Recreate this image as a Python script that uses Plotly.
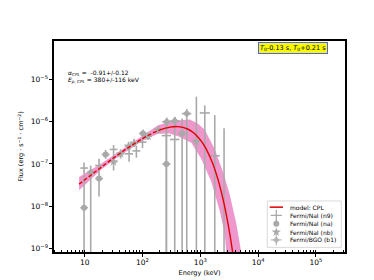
import plotly.graph_objects as go

# ---------------- data ----------------
# model: CPL (nuFnu flux)
model_E = [8, 10, 15, 20, 30, 50, 70, 100, 150, 200, 250, 300, 400, 500, 600, 700, 850,
           1000, 1150, 1300, 1600, 1800, 2000, 2250, 2500, 2750, 3000, 3250, 3500, 3800]
model_F = [3.33e-8, 4.22e-8, 6.47e-8, 8.74e-8, 1.32e-7, 2.18e-7, 2.96e-7, 4.01e-7, 5.41e-7,
           6.41e-7, 7.08e-7, 7.48e-7, 7.69e-7, 7.36e-7, 6.74e-7, 5.98e-7, 4.81e-7, 3.73e-7,
           2.83e-7, 2.10e-7, 1.11e-7, 7.14e-8, 4.51e-8, 2.50e-8, 1.37e-8, 7.43e-9, 3.99e-9,
           2.13e-9, 1.12e-9, 5.2e-10]
dash_until_E = 200

# uncertainty band edges
band_up_E = [8, 19.4, 35, 56, 100, 140, 186, 338, 500, 658, 914, 1195, 1778, 2477, 3236, 4207, 5140]
band_up_F = [4.9e-8, 1.02e-7, 1.77e-7, 2.7e-7, 4.6e-7, 6.4e-7, 8.3e-7, 1.06e-6, 1.12e-6, 1.13e-6,
             9.0e-7, 6.47e-7, 2.23e-7, 6.43e-8, 1.86e-8, 3.78e-9, 7.7e-10]
band_lo_E = [8, 19.4, 35, 56, 100, 186, 290, 412, 700, 1042, 1552, 2171, 2650, 2825]
band_lo_F = [2.4e-8, 7.4e-8, 1.37e-7, 2.14e-7, 3.57e-7, 5.22e-7, 5.3e-7, 4.53e-7, 3.17e-7,
             1.31e-7, 3.78e-8, 7.67e-9, 2.22e-9, 7.7e-10]

# Fermi/NaI (n9)
n9_E = [9.75, 17.7, 31.6, 58.6, 78.4, 100, 259, 361, 1195, 1778]
n9_Elo = [8.4, 15.2, 27.0, 50.0, 67.0, 85.5, 215, 300, 980, 1460]
n9_Ehi = [11.4, 20.7, 37.0, 68.6, 91.7, 117, 312, 435, 1460, 2170]
n9_F = [8.0e-8, 9.2e-8, 2.21e-7, 1.74e-7, 2.04e-7, 3.29e-7, 4.7e-7, 3.8e-7, 1.62e-6, 1.56e-7]
n9_Fhi = [1.09e-7, 1.33e-7, 2.8e-7, 2.27e-7, 2.66e-7, 4.07e-7, 9.2e-7, 1.31e-6, 2.44e-6, 1.44e-6]
n9_Flo = [5.7e-8, 5.7e-8, 1.33e-7, 1.13e-7, 1.41e-7, 2.39e-7, 1e-11, 1e-11, 1e-11, 1e-11]

# Fermi/NaI (na)
na_E = [9.75, 17.7, 23.0, 102, 259, 484]
na_Elo = [8.4, 15.2, 19.7, 87, 220, 410]
na_Ehi = [11.4, 20.7, 26.9, 120, 305, 570]
na_F = [9.2e-9, 4.5e-8, 1.67e-7, 5.3e-7, 1.0e-7, 5.3e-7]
na_Fhi = [5.4e-8, 6.0e-8, 2.15e-7, 6.6e-7, 1.12e-6, 1.2e-6]
na_Flo = [1e-11, 1.7e-8, 1.33e-7, 4.3e-7, 1e-11, 1e-11]

# Fermi/NaI (nb)
nb_E = [31.6, 41.8, 57.4, 71.5, 125, 188, 855]
nb_Elo = [27.0, 35.7, 49.0, 61.0, 107, 160, 730]
nb_Ehi = [37.0, 49.0, 67.2, 83.7, 146, 220, 1000]
nb_F = [1.13e-7, 1.74e-7, 2.66e-7, 3.12e-7, 4.53e-7, 6.5e-7, 3.47e-7]
nb_Fhi = [1.48e-7, 2.2e-7, 3.3e-7, 3.9e-7, 5.5e-7, 7.8e-7, 3.94e-6]
nb_Flo = [7.0e-8, 1.35e-7, 2.1e-7, 2.5e-7, 3.7e-7, 5.3e-7, 1e-11]

# Fermi/BGO (b1)
b1_E = [12.7, 263, 361, 583, 2576]
b1_Elo = [10.9, 220, 300, 480, 2150]
b1_Ehi = [14.8, 312, 435, 700, 3090]
b1_F = [6.3e-8, 1.0e-6, 1.05e-6, 1.56e-6, 5e-10]
b1_Fhi = [9.2e-8, 1.25e-6, 1.3e-6, 2.0e-6, 7.0e-7]
b1_Flo = [1e-11, 8.0e-7, 8.0e-7, 1e-11, 1e-11]

legend_labels = ["model: CPL", "Fermi/NaI (n9)", "Fermi/NaI (na)", "Fermi/NaI (nb)", "Fermi/BGO (b1)"]
param_text = ["<i>α</i><sub><i>CPL</i></sub> =  -0.91+/-0.12",
              "<i>E</i><sub><i>p, CPL</i></sub> = 380+/-116 keV"]
time_text = "<i>T</i><sub>0</sub>-0.13 s, <i>T</i><sub>0</sub>+0.21 s"

# ---------------- style ----------------
GRAY = "#a9a9a9"
PINK = "rgba(236,140,200,0.9)"
RED = "#e00000"
FONT = "DejaVu Sans"

fig = go.Figure()

# band polygon
fig.add_trace(go.Scatter(
    x=band_up_E + band_lo_E[::-1], y=band_up_F + band_lo_F[::-1],
    mode="lines", fill="toself", fillcolor=PINK, line=dict(width=0),
    hoverinfo="skip", showlegend=False))


def data_trace(E, Elo, Ehi, F, Flo, Fhi, symbol, size):
    return go.Scatter(
        x=E, y=F, mode="markers",
        marker=dict(symbol=symbol, size=size, color=GRAY, line=dict(width=0)),
        error_y=dict(type="data", symmetric=False,
                     array=[h - f for h, f in zip(Fhi, F)],
                     arrayminus=[f - l for f, l in zip(F, Flo)],
                     color=GRAY, thickness=1.6, width=0),
        error_x=dict(type="data", symmetric=False,
                     array=[h - e for h, e in zip(Ehi, E)],
                     arrayminus=[e - l for e, l in zip(E, Elo)],
                     color=GRAY, thickness=1.6, width=0),
        showlegend=False)


fig.add_trace(data_trace(n9_E, n9_Elo, n9_Ehi, n9_F, n9_Flo, n9_Fhi, "circle", 0.1))
fig.add_trace(data_trace(na_E, na_Elo, na_Ehi, na_F, na_Flo, na_Fhi, "circle", 6))
fig.add_trace(data_trace(nb_E, nb_Elo, nb_Ehi, nb_F, nb_Flo, nb_Fhi, "star", 7))
fig.add_trace(data_trace(b1_E, b1_Elo, b1_Ehi, b1_F, b1_Flo, b1_Fhi, "diamond", 6))

# model line: dashed part then solid
dE = [e for e in model_E if e <= dash_until_E]
dF = [f for e, f in zip(model_E, model_F) if e <= dash_until_E]
sE = [e for e in model_E if e >= dash_until_E]
sF = [f for e, f in zip(model_E, model_F) if e >= dash_until_E]
fig.add_trace(go.Scatter(x=dE, y=dF, mode="lines", line=dict(color=RED, width=1.4, dash="4px,2px"),
                         showlegend=False))
fig.add_trace(go.Scatter(x=sE, y=sF, mode="lines", line=dict(color=RED, width=1.4, shape="spline"),
                         showlegend=False))

# ---------------- custom legend (overlay axes in 0..1 plot fractions) ----------------
L, R, T, B = 46, 37, 33, 32
W, H = 374 - L - R, 280 - T - B


def fx(px):
    return (px - L) / W


def fy(py):
    return (280 - B - py) / H


row_y = [202.3, 210.7, 219.3, 227.7, 235.7]
sym_x = 268.3
fig.add_trace(go.Scatter(x=[fx(261.7), fx(275)], y=[fy(row_y[0])] * 2, xaxis="x2", yaxis="y2",
                         mode="lines", line=dict(color=RED, width=1.5), showlegend=False, hoverinfo="skip"))
# n9 symbol: a small plus made of errorbar-like lines
fig.add_trace(go.Scatter(x=[fx(sym_x)], y=[fy(row_y[1])], xaxis="x2", yaxis="y2", mode="markers",
                         marker=dict(symbol="cross-thin", size=8, color=GRAY, line=dict(width=1.3, color=GRAY)),
                         showlegend=False, hoverinfo="skip"))
fig.add_trace(go.Scatter(x=[fx(sym_x)], y=[fy(row_y[2])], xaxis="x2", yaxis="y2", mode="markers",
                         marker=dict(symbol="circle", size=6, color=GRAY),
                         showlegend=False, hoverinfo="skip"))
fig.add_trace(go.Scatter(x=[fx(sym_x)], y=[fy(row_y[3])], xaxis="x2", yaxis="y2", mode="markers",
                         marker=dict(symbol="star", size=7, color=GRAY),
                         showlegend=False, hoverinfo="skip"))
fig.add_trace(go.Scatter(x=[fx(sym_x)] * 2, y=[fy(row_y[4])] * 2, xaxis="x2", yaxis="y2", mode="markers",
                         marker=dict(symbol=["cross-thin", "diamond"], size=[8, 4], color=GRAY,
                                     line=dict(width=1.3, color=GRAY)),
                         showlegend=False, hoverinfo="skip"))

annotations = []
for lbl, ry in zip(legend_labels, row_y):
    annotations.append(dict(x=fx(280), y=fy(ry), xref="paper", yref="paper", text=lbl,
                            showarrow=False, xanchor="left", yanchor="middle",
                            font=dict(family=FONT, size=6, color="black")))
annotations.append(dict(x=fx(58.3), y=fy(66.0), xref="paper", yref="paper", text=param_text[0],
                        showarrow=False, xanchor="left", yanchor="middle",
                        font=dict(family=FONT, size=6, color="black")))
annotations.append(dict(x=fx(58.3), y=fy(72.7), xref="paper", yref="paper", text=param_text[1],
                        showarrow=False, xanchor="left", yanchor="middle",
                        font=dict(family=FONT, size=6, color="black")))
annotations.append(dict(x=fx(285.3), y=fy(40.5), xref="paper", yref="paper", text=time_text,
                        showarrow=False, xanchor="center", yanchor="middle",
                        bgcolor="#f8f800", bordercolor="#5060ff", borderwidth=1, borderpad=1,
                        font=dict(family=FONT, size=6.5, color="black")))

shapes = [dict(type="rect", xref="paper", yref="paper", x0=fx(259.3), x1=fx(333.3),
               y0=fy(243.3), y1=fy(196.0), line=dict(color="#d0d0d0", width=0.8),
               fillcolor="white", layer="below")]

fig.update_layout(
    width=374, height=280,
    margin=dict(l=L, r=R, t=T, b=B),
    paper_bgcolor="white", plot_bgcolor="white",
    font=dict(family=FONT, size=6, color="black"),
    showlegend=False,
    annotations=annotations, shapes=shapes,
    xaxis=dict(type="log", range=[0.469, 5.503], dtick=1, exponentformat="power",
               showgrid=False, zeroline=False, showline=True, linecolor="black", linewidth=1.5,
               mirror=True, ticks="outside", ticklen=3, tickwidth=1, tickcolor="black",
               tickfont=dict(family=FONT, size=6),
               minor=dict(ticks="inside", ticklen=2, dtick="D1", tickcolor="black", showgrid=False),
               title=dict(text="Energy (keV)", font=dict(family=FONT, size=6.5), standoff=4)),
    yaxis=dict(type="log", range=[-9.086, -4.086], dtick=1, exponentformat="power",
               showgrid=False, zeroline=False, showline=True, linecolor="black", linewidth=1.5,
               mirror=True, ticks="outside", ticklen=3, tickwidth=1, tickcolor="black",
               tickfont=dict(family=FONT, size=6),
               title=dict(text="Flux (erg · s<sup>−1</sup> · cm<sup>−2</sup>)",
                          font=dict(family=FONT, size=6.5), standoff=6)),
    xaxis2=dict(overlaying="x", range=[0, 1], visible=False, fixedrange=True),
    yaxis2=dict(overlaying="y", range=[0, 1], visible=False, fixedrange=True),
)

fig.write_html("out.html")
